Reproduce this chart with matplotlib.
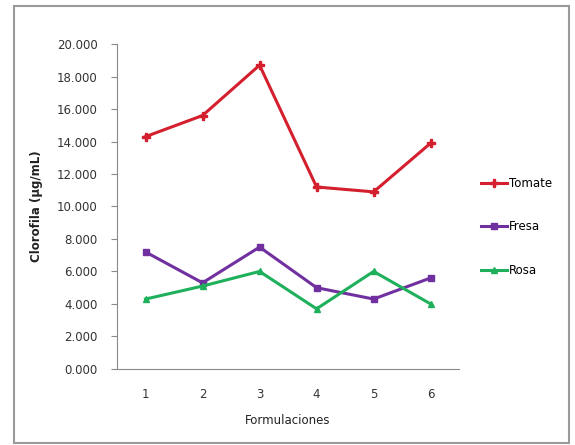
import matplotlib.pyplot as plt
from matplotlib.patches import Rectangle

# Datos
formulaciones = [1, 2, 3, 4, 5, 6]
tomate = [14.3, 15.6, 18.7, 11.2, 10.9, 13.9]
fresa = [7.2, 5.3, 7.5, 5.0, 4.3, 5.6]
rosa = [4.3, 5.1, 6.0, 3.7, 6.0, 4.0]

fig = plt.figure(figsize=(5.75, 4.45), dpi=100)
ax = fig.add_axes([0.2035, 0.171, 0.595, 0.730])

ax.plot(formulaciones, tomate, color='#d41f2e', lw=2.2, marker='P', ms=6, label='Tomate')
ax.plot(formulaciones, fresa, color='#7030a0', lw=2.2, marker='s', ms=5, label='Fresa')
ax.plot(formulaciones, rosa, color='#1fb05c', lw=2.2, marker='^', ms=5, label='Rosa')

ax.set_xlim(0.5, 6.5)
ax.set_ylim(0, 20)
ax.set_yticks(range(0, 21, 2))
ax.set_yticklabels(['%.3f' % v for v in range(0, 21, 2)])
ax.set_xticks(formulaciones)

for s in ['top', 'right']:
    ax.spines[s].set_visible(False)
for s in ['left', 'bottom']:
    ax.spines[s].set_color('#8a8a8a')
ax.tick_params(axis='y', length=4, color='#8a8a8a', labelsize=8.5, labelcolor='#333333', pad=10)
ax.tick_params(axis='x', length=0, labelsize=8.5, labelcolor='#333333', pad=14)

ax.set_xlabel('Formulaciones', fontsize=8.5, color='#222222', labelpad=9)
ax.set_ylabel('Clorofila (µg/mL)', fontsize=8.5, fontweight='bold', color='#222222', labelpad=10)

ax.legend(loc='center left', bbox_to_anchor=(0.818, 0.49), bbox_transform=fig.transFigure,
          frameon=False, fontsize=8.5, handlelength=2.2, labelspacing=2.6, handletextpad=0.2)

# marco exterior del gráfico
fig.patches.append(Rectangle((0.025, 0.005), 0.965, 0.982, transform=fig.transFigure,
                             fill=False, edgecolor='#9a9a9a', lw=1.5))

fig.savefig('out.png', dpi=100)
